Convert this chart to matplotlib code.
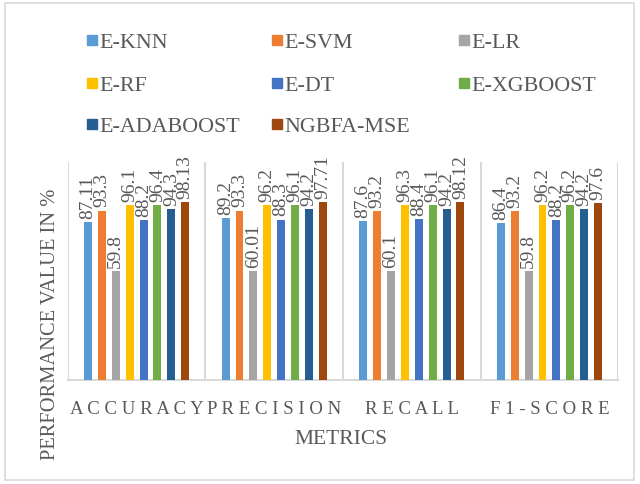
import matplotlib
matplotlib.use("Agg")
import matplotlib.pyplot as plt
from matplotlib.patches import Rectangle
import numpy as np

plt.rcParams['font.family'] = ['Liberation Serif', 'DejaVu Serif']

metrics = ["ACCURACY", "PRECISION", "RECALL", "F1-SCORE"]
models = ["E-KNN", "E-SVM", "E-LR", "E-RF", "E-DT", "E-XGBOOST", "E-ADABOOST", "NGBFA-MSE"]

e_knn = [87.11, 89.2, 87.6, 86.4]
e_svm = [93.3, 93.3, 93.2, 93.2]
e_lr = [59.8, 60.01, 60.1, 59.8]
e_rf = [96.1, 96.2, 96.3, 96.2]
e_dt = [88.2, 88.3, 88.4, 88.2]
e_xgboost = [96.4, 96.1, 96.1, 96.2]
e_adaboost = [94.3, 94.2, 94.2, 94.2]
ngbfa_mse = [98.13, 97.71, 98.12, 97.6]

series = [e_knn, e_svm, e_lr, e_rf, e_dt, e_xgboost, e_adaboost, ngbfa_mse]
colors = ["#5B9BD5", "#ED7D31", "#A5A5A5", "#FFC000",
          "#4472C4", "#70AD47", "#255E91", "#9E480E"]

text_color = "#595959"
grid_color = "#D9D9D9"

W, H = 640, 485
fig = plt.figure(figsize=(W / 100, H / 100), dpi=100)
ax = fig.add_axes([0.106, 0.214, 0.860, 0.450])

x = np.arange(len(metrics))
step = 0.101
width = 0.058
for i, (vals, col) in enumerate(zip(series, colors)):
    pos = x + (i - 3.5) * step
    ax.bar(pos, vals, width=width, color=col, label=models[i], zorder=3)
    for px, v in zip(pos, vals):
        ax.annotate(f"{v:g}", (px, v), xytext=(0, 3), textcoords="offset points",
                    rotation=90, ha="center", va="bottom", fontsize=14,
                    color=text_color, zorder=4)

ax.set_xlim(-0.5, len(metrics) - 0.5)
ax.set_ylim(0, 120)
ax.set_yticks([])
for b in np.arange(-0.5, len(metrics), 1.0):
    ax.axvline(b, color=grid_color, lw=1.5, zorder=1)

for s in ["top", "right", "left"]:
    ax.spines[s].set_visible(False)
ax.spines["bottom"].set_color(grid_color)
ax.spines["bottom"].set_linewidth(1.5)

ax.set_xticks(x)
ax.set_xticklabels([" ".join(m) for m in metrics], fontsize=13.5, color=text_color)
ax.tick_params(axis="x", length=0, pad=14)

fig.text(0.533, 1 - 440 / H, "METRICS", ha="center", va="center",
         fontsize=15.5, color=text_color)
fig.text(51 / W, 1 - 324 / H, "PERFORMANCE VALUE IN %", rotation=90,
         ha="center", va="center", fontsize=14.8, color=text_color)

# legend: three columns filled row by row
col_x = [87, 272, 459]
row_y = [41, 84, 125]
box = 10
for k, (name, col) in enumerate(zip(models, colors)):
    r, c = divmod(k, 3)
    x0, yc = col_x[c], row_y[r]
    fig.patches.append(Rectangle((x0 / W, 1 - (yc + box / 2) / H), box / W, box / H,
                                 transform=fig.transFigure, color=col))
    fig.text((x0 + box + 2) / W, 1 - yc / H, name, ha="left", va="center_baseline",
             fontsize=15.8, color=text_color)

fig.patches.append(Rectangle((5 / W, 4 / H), 629 / W, 477 / H,
                             transform=fig.transFigure, fill=False,
                             edgecolor=grid_color, lw=1.2))

fig.savefig("out.png", dpi=100)
